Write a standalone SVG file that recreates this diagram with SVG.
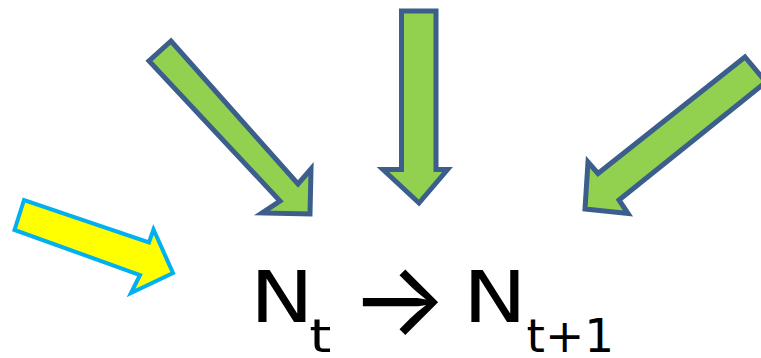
<svg xmlns="http://www.w3.org/2000/svg" width="761" height="358" viewBox="0 0 761 358">
<style>
.g{fill:#92D050;stroke:#3B5E8C;stroke-width:5;stroke-linejoin:miter}
.y{fill:#FFFF00;stroke:#00B0F0;stroke-width:4;stroke-linejoin:miter}
.t{font-family:"DejaVu Sans","Noto Sans",sans-serif;fill:#000}
.a{font-family:Inter,"DejaVu Sans",sans-serif;fill:#000}
</style>
<rect width="761" height="358" fill="#fff"/>
<g id="connectors">
<g id="arrow-topleft"><polygon class="g" points="171,41 149,61 280,201 262,213 310,214 311,169 298,184"/></g>
<g id="arrow-top"><polygon class="g" points="401.5,11 436,11 436,169.5 447.5,169.5 419,203 383,169.5 401.5,169.5"/></g>
<g id="arrow-topright"><polygon class="g" points="745,57 766,82 619,200 628,213.5 585,209 588,162 598,173.5"/></g>
<g id="arrow-yellow"><polygon class="y" points="24,200 14.5,230 140,275 131,293 173,273 153.5,229.5 149,242.5"/></g>
</g>
<g id="equation">
<text class="t" font-size="71" transform="translate(250,322) scale(1.2,1)">N<tspan font-size="47" x="49.4" y="30">t</tspan></text>
<text class="a" font-size="103" x="350" y="335">→</text>
<text class="t" font-size="71" transform="translate(463,322) scale(1.2,1)">N</text>
<text class="t" font-size="47" x="526.5" y="352">t+1</text>
</g>
</svg>
